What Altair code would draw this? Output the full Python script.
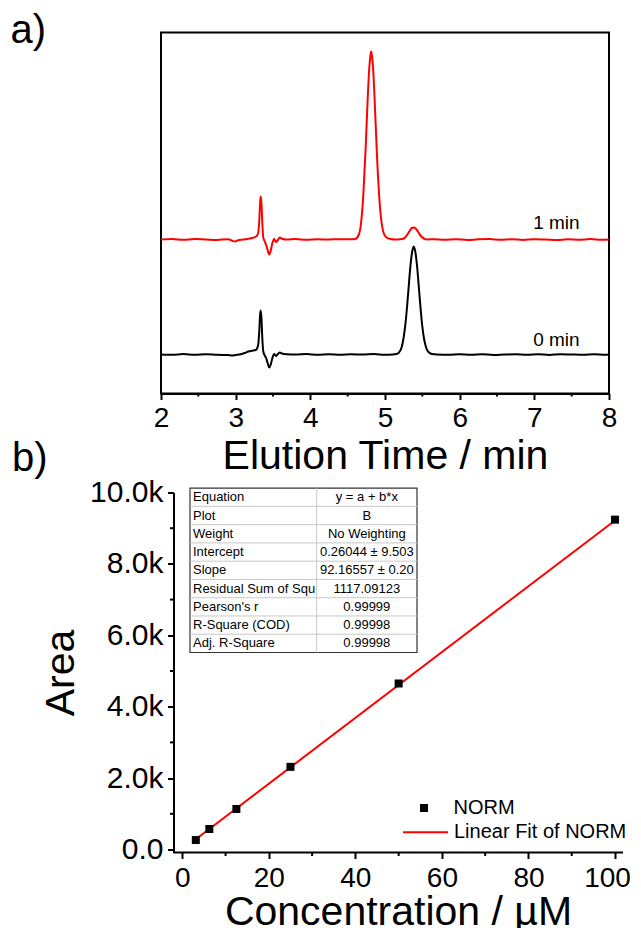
import altair as alt
import pandas as pd

FONT = "Liberation Sans"

# ---------------- panel a) chromatograms ----------------
RUNS = ["0 min", "1 min"]
RUN_COLORS = ["black", "red"]
RUN_OFFSETS = {"0 min": 39, "1 min": 154}

TRACE_1MIN = [
    (2.00, 0), (2.15, 0.5), (2.30, -0.3), (2.45, 0.4), (2.60, 0), (2.75, -0.4),
    (2.90, 0.2), (2.96, -1.5), (2.99, -2), (3.03, -0.8), (3.10, 0), (3.16, 0.6),
    (3.22, 1.5), (3.27, 2.8), (3.30, 6), (3.315, 17), (3.327, 36), (3.335, 43),
    (3.345, 37), (3.357, 16), (3.37, 2), (3.39, -2), (3.41, -6), (3.43, -11),
    (3.45, -15), (3.47, -11), (3.49, -4), (3.515, 0.5), (3.54, -2.5), (3.56, -1),
    (3.59, 2), (3.62, 0.8), (3.68, 0), (3.80, 0.4), (3.95, -0.3), (4.10, 0.2),
    (4.25, 0), (4.40, 0.3), (4.52, 0.2), (4.60, 0.5), (4.65, 5), (4.68, 17),
    (4.71, 45), (4.74, 90), (4.77, 144), (4.79, 172), (4.805, 184), (4.815, 188),
    (4.825, 184), (4.84, 172), (4.86, 142), (4.89, 88), (4.92, 46), (4.95, 19),
    (4.98, 7), (5.02, 2), (5.07, 0.5), (5.14, 0), (5.20, 0.2), (5.25, 1),
    (5.29, 4), (5.33, 8.5), (5.36, 11.5), (5.385, 12), (5.41, 11), (5.44, 8),
    (5.48, 3.5), (5.52, 1), (5.57, 0), (5.65, 0.3), (5.80, -0.3), (5.95, 0.3),
    (6.10, -0.5), (6.25, 0.2), (6.40, 0.4), (6.55, -0.3), (6.70, 0.2), (6.85, -0.4),
    (7.00, 0.3), (7.15, 0), (7.30, -0.5), (7.45, 0.2), (7.60, -0.2), (7.75, 0.4),
    (7.90, -0.3), (8.00, 0),
]

TRACE_0MIN = [
    (2.00, 0), (2.15, -0.3), (2.30, 0.4), (2.45, -0.2), (2.60, 0.3), (2.75, -0.3),
    (2.90, -0.6), (2.95, -1), (3.00, -0.5), (3.07, 0.3), (3.12, 1.5), (3.17, 3),
    (3.22, 3.8), (3.27, 4.5), (3.30, 9), (3.315, 22), (3.327, 40), (3.335, 44),
    (3.345, 37), (3.357, 16), (3.37, 3), (3.39, -1), (3.41, -4), (3.43, -9),
    (3.45, -13), (3.47, -10), (3.49, -4), (3.515, 0.5), (3.54, -1.5), (3.56, 0),
    (3.59, 2), (3.62, 1), (3.68, 0.3), (3.80, 0), (3.95, 0.4), (4.10, -0.2),
    (4.25, 0.3), (4.40, -0.3), (4.55, 0.2), (4.70, 0), (4.85, 0.4), (5.00, -0.3),
    (5.10, 0), (5.15, 0.5), (5.18, 1.5), (5.22, 6.5), (5.25, 17), (5.28, 35),
    (5.31, 61), (5.34, 88), (5.36, 101), (5.385, 108), (5.41, 101), (5.43, 88),
    (5.46, 61), (5.49, 35), (5.52, 17), (5.55, 7), (5.59, 2), (5.63, 0.5),
    (5.70, 0), (5.85, -0.3), (6.00, 0.3), (6.15, -0.2), (6.30, 0.3), (6.45, -0.4),
    (6.60, 0), (6.75, 0.3), (6.90, -0.3), (7.05, 0.2), (7.20, -0.4), (7.35, 0.3),
    (7.50, 0), (7.65, -0.3), (7.80, 0.3), (7.95, -0.2), (8.00, 0),
]

TIME_TICKS = [2, 3, 4, 5, 6, 7, 8]
TIME_MINOR = [2.5, 3.5, 4.5, 5.5, 6.5, 7.5]
RUN_LABELS = ["1 min", "0 min"]
RUN_LABEL_T = [7.296, 7.296]
RUN_LABEL_Y = [170.7, 54]

# ---------------- panel b) calibration ----------------
CONC = [3.125, 6.25, 12.5, 25, 50, 100]
AREA = [265, 575, 1135, 2315, 4650, 9240]
FIT_X = [3.125, 100]
FIT_Y = [288.3, 9216.8]
CONC_TICKS = [0, 20, 40, 60, 80, 100]
CONC_MINOR = [10, 30, 50, 70, 90]
AREA_TICKS = [0, 2000, 4000, 6000, 8000, 10000]
AREA_MINOR = [1000, 3000, 5000, 7000, 9000]

TABLE_LABELS = ["Equation", "Plot", "Weight", "Intercept", "Slope",
                "Residual Sum of Squ", "Pearson's r", "R-Square (COD)", "Adj. R-Square"]
TABLE_VALUES = ["y = a + b*x", "B", "No Weighting", "0.26044 \u00b1 9.503",
                "92.16557 \u00b1 0.20", "1117.09123", "0.99999", "0.99998", "0.99998"]

LABEL_SIZE = 28
Y_LABEL_SIZE = 30
TITLE_SIZE = 41

# ================= top chart =================
rows = []
for run, trace in (("0 min", TRACE_0MIN), ("1 min", TRACE_1MIN)):
    for i, (t, s) in enumerate(trace):
        rows.append({"run": run, "t": t, "signal": s + RUN_OFFSETS[run], "order": i})
trace_df = pd.DataFrame(rows)

tx = alt.Scale(domain=[2, 8], nice=False)
ty = alt.Scale(domain=[0, 361], nice=False)
x_top_axis = alt.Axis(values=TIME_TICKS, title="Elution Time / min", labelPadding=5,
                      titlePadding=4, labelFlush=False)

traces = alt.Chart(trace_df).mark_line(strokeWidth=2, interpolate="monotone").encode(
    x=alt.X("t:Q", scale=tx, axis=x_top_axis),
    y=alt.Y("signal:Q", scale=ty, axis=None),
    color=alt.Color("run:N", scale=alt.Scale(domain=RUNS, range=RUN_COLORS), legend=None),
    order="order:Q",
)

minor_top = alt.Chart(pd.DataFrame({"t": TIME_MINOR})).mark_rule(
    color="black", strokeWidth=2).encode(
    x=alt.X("t:Q", scale=tx, axis=x_top_axis),
    y=alt.value(361), y2=alt.value(364),
)

labels_top = alt.Chart(pd.DataFrame({"label": RUN_LABELS, "t": RUN_LABEL_T,
                                     "signal": RUN_LABEL_Y})).mark_text(
    font=FONT, fontSize=19, color="black", baseline="middle", align="center").encode(
    x=alt.X("t:Q", scale=tx, axis=x_top_axis),
    y=alt.Y("signal:Q", scale=ty, axis=None),
    text="label:N",
)

top = alt.layer(traces, minor_top, labels_top).properties(
    width=448, height=361,
    view=alt.ViewBackground(stroke="black", strokeWidth=2),
    title=alt.TitleParams("a)", anchor="start", frame="group", font=FONT, fontSize=40,
                          fontWeight="normal", color="black", dx=-150.5, dy=50,
                          offset=0, baseline="alphabetic"),
)

# ================= bottom chart =================
bx = alt.Scale(domain=[-4.92, 101.85], nice=False)
by = alt.Scale(domain=[-84, 10000], nice=False)
x_bot_axis = alt.Axis(values=CONC_TICKS, title="Concentration / \u00b5M", domain=False,
                      labelPadding=6, titlePadding=0, labelFlush=False, titleX=237,
                      labelOffset={"condition": {"test": "datum.value == 100", "value": -8},
                                   "value": 0})
y_bot_axis = alt.Axis(values=AREA_TICKS, title="Area", offset=-12.5, labelPadding=4.5,
                      titlePadding=7.5, labelFlush=False, labelFontSize=Y_LABEL_SIZE,
                      labelExpr="datum.value == 0 ? '0.0' : format(datum.value / 1000, '.1f') + 'k'")
XB = alt.X("conc:Q", scale=bx, axis=x_bot_axis)
YB = alt.Y("area:Q", scale=by, axis=y_bot_axis)

axis_line = alt.Chart(pd.DataFrame({"k": [0]})).mark_rule(color="black", strokeWidth=2).encode(
    x=alt.value(12.5), x2=alt.value(462), y=alt.value(360))

x_minor = alt.Chart(pd.DataFrame({"conc": CONC_MINOR})).mark_rule(
    color="black", strokeWidth=2).encode(x=XB, y=alt.value(360), y2=alt.value(363.5))

y_minor = alt.Chart(pd.DataFrame({"area": AREA_MINOR})).mark_rule(
    color="black", strokeWidth=2).encode(y=YB, x=alt.value(9), x2=alt.value(12.5))

fit_df = pd.DataFrame({"conc": FIT_X, "area": FIT_Y, "series": "Linear Fit of NORM"})
fit = alt.Chart(fit_df).mark_line(strokeWidth=2).encode(
    x=XB, y=YB,
    color=alt.Color("series:N", scale=alt.Scale(domain=["Linear Fit of NORM"], range=["red"]),
                    legend=alt.Legend(title=None, orient="none", legendX=241, legendY=316.2,
                                      padding=0, labelFont=FONT, labelFontSize=20,
                                      labelColor="black", labelOffset=5, labelLimit=400,
                                      symbolType="stroke",
                                      symbolSize=2025, symbolStrokeWidth=2,
                                      symbolStrokeColor="red")),
)

pts_df = pd.DataFrame({"conc": CONC, "area": AREA, "series": "NORM"})
points = alt.Chart(pts_df).mark_point(filled=True, size=64, color="black", opacity=1).encode(
    x=XB, y=YB,
    shape=alt.Shape("series:N", scale=alt.Scale(domain=["NORM"], range=["square"]),
                    legend=alt.Legend(title=None, orient="none", legendX=253, legendY=305.5,
                                      padding=0, labelFont=FONT, labelFontSize=20,
                                      labelColor="black", labelOffset=19.5, labelLimit=400,
                                      symbolSize=64,
                                      symbolFillColor="black", symbolStrokeColor="black",
                                      symbolStrokeWidth=0)),
)

main_b = alt.layer(axis_line, x_minor, y_minor, fit, points)

# inset fit table
tbx = alt.Scale(domain=[0, 1], range=[29, 256])
tby = alt.Scale(domain=[0, 9], range=[-4.4, 160])
tbl_df = pd.DataFrame({"row": list(range(9)), "yc": [i + 0.5 for i in range(9)],
                       "label": TABLE_LABELS, "value": TABLE_VALUES,
                       "xl": [0.0] * 9, "xr": [0.779] * 9})
hl_df = pd.DataFrame({"y": list(range(1, 9)), "x0": [0.0] * 8, "x1": [1.0] * 8})
vl_df = pd.DataFrame({"x": [0.558], "y0": [0], "y1": [9]})
box_df = pd.DataFrame({"x0": [0], "x1": [1], "y0": [0], "y1": [9]})

t_box = alt.Chart(box_df).mark_rect(fill="white", stroke="#333333", strokeWidth=1.2).encode(
    x=alt.X("x0:Q", scale=tbx, axis=None), x2="x1:Q",
    y=alt.Y("y0:Q", scale=tby, axis=None), y2="y1:Q")
t_hl = alt.Chart(hl_df).mark_rule(color="#c8c8c8", strokeWidth=1).encode(
    x=alt.X("x0:Q", scale=tbx, axis=None), x2="x1:Q",
    y=alt.Y("y:Q", scale=tby, axis=None))
t_vl = alt.Chart(vl_df).mark_rule(color="#c8c8c8", strokeWidth=1).encode(
    x=alt.X("x:Q", scale=tbx, axis=None),
    y=alt.Y("y0:Q", scale=tby, axis=None), y2="y1:Q")
t_left = alt.Chart(tbl_df).mark_text(align="left", baseline="middle", dx=3, font=FONT,
                                     fontSize=13, color="black").encode(
    x=alt.X("xl:Q", scale=tbx, axis=None), y=alt.Y("yc:Q", scale=tby, axis=None),
    text="label:N")
t_right = alt.Chart(tbl_df).mark_text(align="center", baseline="middle", font=FONT,
                                      fontSize=13, color="black").encode(
    x=alt.X("xr:Q", scale=tbx, axis=None), y=alt.Y("yc:Q", scale=tby, axis=None),
    text="value:N")
table = alt.layer(t_box, t_hl, t_vl, t_left, t_right)

bottom = alt.layer(main_b, table).resolve_scale(x="independent", y="independent").properties(
    width=462, height=360,
    view=alt.ViewBackground(stroke="transparent", strokeWidth=0),
    title=alt.TitleParams("b)", anchor="start", frame="group", font=FONT, fontSize=40,
                          fontWeight="normal", color="black", dx=-149, dy=33.8,
                          offset=0, baseline="alphabetic"),
)

chart = alt.vconcat(top, bottom, spacing=99, bounds="flush").resolve_scale(
    color="independent", shape="independent"
).resolve_legend(
    color="independent", shape="independent"
).properties(
    padding={"left": 1, "top": 1.5, "right": 0, "bottom": -4.5}
).configure_axis(
    labelFont=FONT, titleFont=FONT, labelFontSize=LABEL_SIZE, titleFontSize=TITLE_SIZE,
    titleFontWeight="normal", labelColor="black", titleColor="black",
    domainColor="black", tickColor="black", domainWidth=2, tickWidth=2, tickSize=6,
    grid=False,
).configure_view(strokeWidth=0)

chart.save("out.html", embed_options={"renderer": "svg", "actions": False})
